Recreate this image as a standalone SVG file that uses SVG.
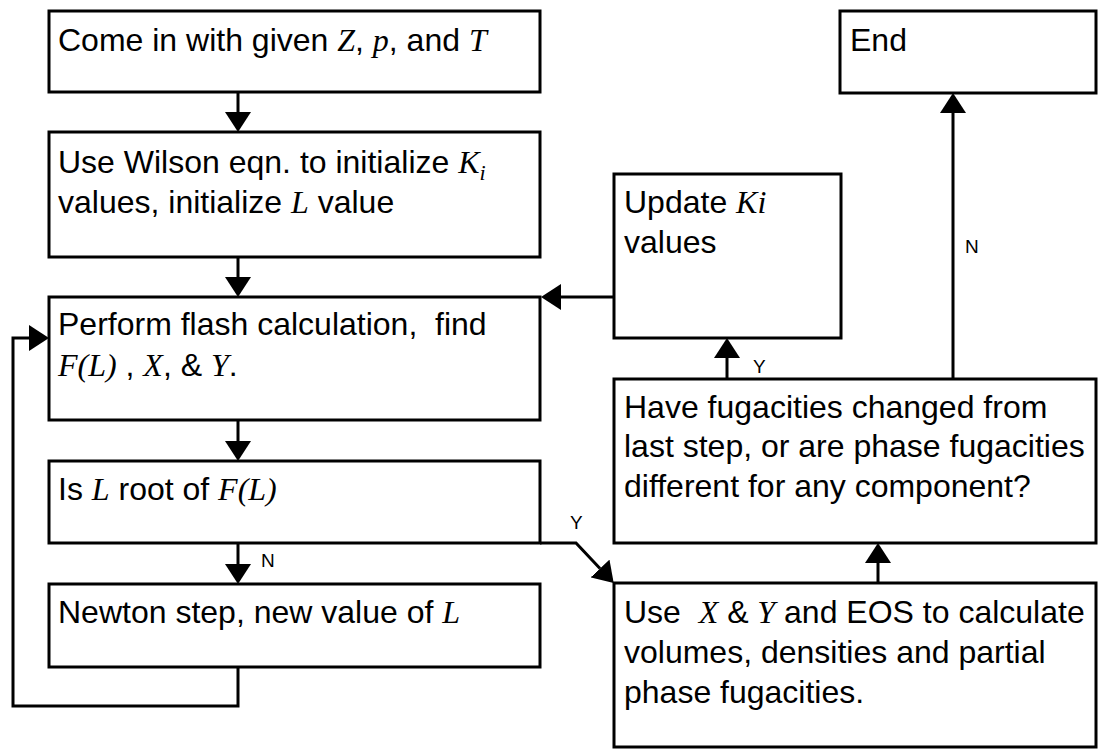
<svg xmlns="http://www.w3.org/2000/svg" width="1099" height="749" viewBox="0 0 1099 749">
<style>
.box{fill:#fff;stroke:#000;stroke-width:3}
.t{font-family:"Liberation Sans",Arial,sans-serif;font-size:32px;fill:#000}
.i{font-family:"Liberation Serif","Times New Roman",serif;font-style:italic}
.lbl{font-family:"Liberation Sans",Arial,sans-serif;font-size:19px;fill:#000}
.c{fill:none;stroke:#000;stroke-width:3}
</style>
<defs>
<marker id="ah" markerUnits="userSpaceOnUse" markerWidth="21" markerHeight="26" refX="0" refY="13" orient="auto" viewBox="0 0 21 26">
<path d="M0,0 L20,13 L0,26 Z" fill="#000"/>
</marker>
</defs>
<g id="connectors">
<line class="c" x1="238" y1="92" x2="238" y2="112" marker-end="url(#ah)"/>
<line class="c" x1="238" y1="257" x2="238" y2="277" marker-end="url(#ah)"/>
<line class="c" x1="238" y1="420" x2="238" y2="441" marker-end="url(#ah)"/>
<line class="c" x1="238" y1="543" x2="238" y2="564" marker-end="url(#ah)"/>
<polyline class="c" points="238,667 238,706 13,706 13,338 29,338" marker-end="url(#ah)"/>
<line class="c" x1="614" y1="297" x2="561" y2="297" marker-end="url(#ah)"/>
<line class="c" x1="727" y1="379" x2="727" y2="358" marker-end="url(#ah)"/>
<line class="c" x1="953" y1="379" x2="953" y2="113" marker-end="url(#ah)"/>
<polyline class="c" points="540,543 576,543 600,568.5" marker-end="url(#ah)"/>
<line class="c" x1="878" y1="583" x2="878" y2="563" marker-end="url(#ah)"/>
<text class="lbl" x="261" y="567">N</text>
<text class="lbl" x="965" y="253">N</text>
<text class="lbl" x="753" y="373">Y</text>
<text class="lbl" x="570" y="529">Y</text>
</g>
<g id="n1">
<rect class="box" x="49" y="11" width="491" height="81"/>
<text class="t" x="58" y="51">Come in with given <tspan class="i">Z</tspan>, <tspan class="i">p</tspan>, and <tspan class="i">T</tspan></text>
</g>
<g id="n2">
<rect class="box" x="49" y="132" width="491" height="125"/>
<text class="t" x="58" y="173">Use Wilson eqn. to initialize <tspan class="i">K</tspan><tspan class="i" font-size="22" dy="7">i</tspan></text>
<text class="t" x="58" y="213">values, initialize <tspan class="i">L</tspan> value</text>
</g>
<g id="n3">
<rect class="box" x="49" y="297" width="491" height="123"/>
<text class="t" x="58" y="335" xml:space="preserve">Perform flash calculation,  find</text>
<text class="t" x="58" y="376"><tspan class="i">F(L)</tspan> , <tspan class="i">X</tspan>, &amp; <tspan class="i">Y</tspan>.</text>
</g>
<g id="n4">
<rect class="box" x="49" y="461" width="491" height="82"/>
<text class="t" x="58" y="500">Is <tspan class="i">L</tspan> root of <tspan class="i">F(L)</tspan></text>
</g>
<g id="n5">
<rect class="box" x="49" y="584" width="491" height="83"/>
<text class="t" x="58" y="623">Newton step, new value of <tspan class="i">L</tspan></text>
</g>
<g id="n6">
<rect class="box" x="840" y="11" width="256" height="82"/>
<text class="t" x="850" y="51">End</text>
</g>
<g id="n7">
<rect class="box" x="614" y="174" width="227" height="164"/>
<text class="t" x="624" y="213">Update <tspan class="i">Ki</tspan></text>
<text class="t" x="624" y="253">values</text>
</g>
<g id="n8">
<rect class="box" x="614" y="379" width="482" height="164"/>
<text class="t" x="624" y="418">Have fugacities changed from</text>
<text class="t" x="624" y="457">last step, or are phase fugacities</text>
<text class="t" x="624" y="497">different for any component?</text>
</g>
<g id="n9">
<rect class="box" x="614" y="583" width="482" height="164"/>
<text class="t" x="624" y="623" xml:space="preserve">Use  <tspan class="i">X</tspan> &amp; <tspan class="i">Y</tspan> and EOS to calculate</text>
<text class="t" x="624" y="663">volumes, densities and partial</text>
<text class="t" x="624" y="703">phase fugacities.</text>
</g>
</svg>
